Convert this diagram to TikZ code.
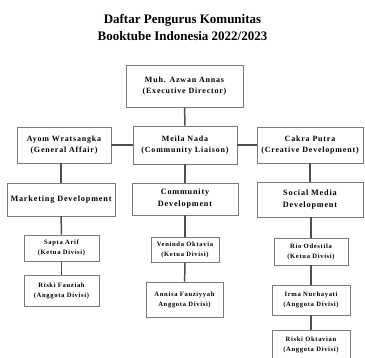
\documentclass[tikz,border=0pt]{standalone}
\usepackage{fontspec}
\setmainfont{Liberation Serif}
\newfontfamily\orgfont[LetterSpace=10]{Liberation Serif}
\usetikzlibrary{positioning}
\usepackage{xcolor}
\definecolor{boxgray}{HTML}{7A7A7A}
\definecolor{linkgray}{HTML}{4E4E4E}

\begin{document}
\begin{tikzpicture}[x=1pt, y=-1pt,
        box/.style={draw=boxgray, line width=0.7pt, align=center, inner sep=0pt},
        bigbox/.style={box, font=\orgfont\bfseries\fontsize{8}{10.5}\selectfont},
        midbox/.style={box, font=\orgfont\bfseries\fontsize{8.2}{12}\selectfont},
        smallbox/.style={box, font=\orgfont\bfseries\fontsize{6.6}{10}\selectfont},
        link/.style={draw=linkgray, line width=1.5pt}]
        \useasboundingbox (0,0) rectangle (365,358);

        % Title
        \node[align=center, font=\bfseries\fontsize{13}{17}\selectfont] (title) at (182.5,28) {Daftar Pengurus Komunitas\\Booktube Indonesia 2022/2023};

        % Board
        \node[bigbox, minimum width=117pt, minimum height=42pt] (exe)   at (184.5,86)  {Muh. Azwan Annas\\(Executive Director)};
        \node[bigbox, minimum width=104pt, minimum height=38pt] (meila) at (185,145)   {Meila Nada\\(Community Liaison)};
        \node[bigbox, minimum width=94pt,  minimum height=36pt] (ayom)  at (64,145)    {Ayom Wratsangka\\(General Affair)};
        \node[bigbox, minimum width=106pt, minimum height=36pt] (cakra) at (310,145)   {Cakra Putra\\(Creative Development)};

        % Divisions
        \node[midbox, minimum width=108pt, minimum height=33pt] (market) at (61,199.5) {Marketing Development};
        \node[midbox, minimum width=106pt, minimum height=32pt] (commun) at (185,199)  {Community\\Development};
        \node[midbox, minimum width=106pt, minimum height=35pt] (social) at (310,199.5) {Social Media\\Development};

        % Division members
        \node[smallbox, minimum width=75pt, minimum height=26pt] (sapta)   at (61.5,248)  {Sapta Arif\\(Ketua Divisi)};
        \node[smallbox, minimum width=75pt, minimum height=31pt] (fauziah) at (61.5,290.5) {Riski Fauziah\\(Anggota Divisi)};
        \node[smallbox, minimum width=68pt, minimum height=25pt] (veninda) at (185,249.5)  {Veninda Oktavia\\(Ketua Divisi)};
        \node[smallbox, minimum width=77pt, minimum height=35pt] (annisa)  at (184.5,299.5) {Annisa Fauziyyah\\Anggota Divisi)};
        \node[smallbox, minimum width=74pt, minimum height=27pt] (rio)     at (311,251.5)  {Rio Odestila\\(Ketua Divisi)};
        \node[smallbox, minimum width=78pt, minimum height=30pt] (irma)    at (311,300)    {Irma Nurhayati\\(Anggota Divisi)};
        \node[smallbox, minimum width=78pt, minimum height=30pt] (oktavian) at (311,345)   {Riski Oktavian\\(Anggota Divisi)};

        % Board links
        \draw[link] (exe) -- (meila);
        \draw[link] (ayom) -- (meila);
        \draw[link] (meila) -- (cakra);

        % Division links
        \draw[link] (ayom.south -| market.north) -- (market.north);
        \draw[link] (meila) -- (commun);
        \draw[link] (cakra.south -| social.north) -- (social.north);

        % Member links
        \draw[link] (market) -- (sapta);
        \draw[link] (sapta) -- (fauziah);
        \draw[link] (commun) -- (veninda);
        \draw[link] (veninda) -- (annisa);
        \draw[link] (social.south -| rio.north) -- (rio);
        \draw[link] (rio) -- (irma);
        \draw[link] (irma) -- (oktavian);
    \end{tikzpicture}
\end{document}
